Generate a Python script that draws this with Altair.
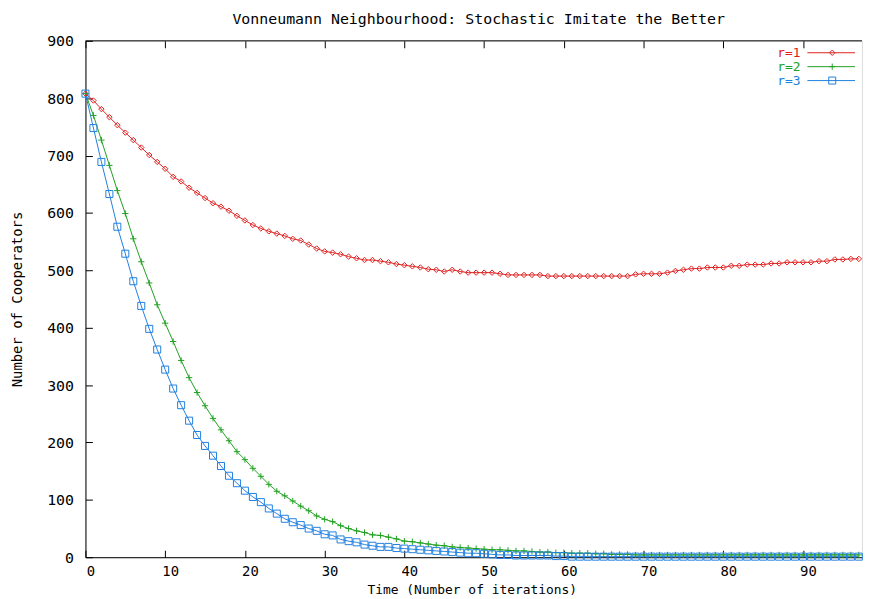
import altair as alt
import pandas as pd

# ---------------- data ----------------
iterations = list(range(0, 98))

r1 = [808, 796, 781, 767, 753, 740, 727, 714, 701, 689,
      677, 663, 655, 644, 635, 626, 617, 611, 604, 595,
      587, 579, 573, 568, 564, 560, 555, 552, 545, 538,
      533, 531, 528, 524, 521, 518, 518, 516, 514, 511,
      509, 507, 505, 502, 501, 498, 501, 498, 496, 496,
      496, 496, 494, 492, 492, 492, 492, 492, 490, 490,
      490, 490, 490, 490, 490, 490, 490, 490, 490, 493,
      494, 494, 494, 496, 499, 501, 503, 503, 505, 505,
      505, 508, 508, 510, 510, 510, 512, 512, 514, 514,
      514, 514, 516, 516, 519, 519, 520, 520]

r2 = [808, 770, 727, 683, 639, 599, 555, 515, 478, 440,
      408, 376, 343, 313, 287, 264, 242, 222, 203, 184,
      170, 155, 141, 127, 115, 107, 98, 89, 81, 72,
      66, 62, 55, 50, 46, 43, 39, 38, 35, 32,
      28, 27, 25, 23, 21, 20, 18, 17, 16, 15,
      14, 13, 13, 12, 11, 11, 10, 9, 9, 8,
      8, 7, 7, 7, 6, 6, 5, 5, 5, 4,
      4, 4, 4, 4, 4, 4, 4, 4, 4, 4,
      4, 4, 4, 4, 4, 4, 4, 4, 4, 4,
      4, 4, 4, 4, 4, 4, 4, 4]

r3 = [808, 748, 689, 633, 576, 529, 481, 438, 398, 362,
      327, 294, 265, 238, 213, 194, 177, 159, 142, 129,
      116, 105, 96, 85, 76, 67, 61, 56, 50, 46,
      40, 38, 31, 28, 26, 22, 20, 18, 18, 16,
      15, 14, 13, 12, 11, 10, 9, 8, 7, 7,
      6, 5, 4, 4, 3, 3, 3, 3, 3, 2,
      2, 1, 1, 1, 1, 1, 1, 1, 1, 1,
      1, 1, 1, 1, 1, 1, 1, 1, 1, 1,
      1, 1, 1, 1, 1, 1, 1, 1, 1, 1,
      1, 1, 1, 1, 1, 1, 1, 1]

series_names = ["r=1", "r=2", "r=3"]
series_colors = ["#e02020", "#20a020", "#2080e0"]
x_ticks = [0, 10, 20, 30, 40, 50, 60, 70, 80, 90]
y_ticks = [0, 100, 200, 300, 400, 500, 600, 700, 800, 900]
chart_title = "Vonneumann Neighbourhood: Stochastic Imitate the Better"
x_title = "Time (Number of iterations)"
y_title = "Number of Cooperators"

# ---------------- tables ----------------
df = pd.DataFrame({
    "t": iterations * 3,
    "count": r1 + r2 + r3,
    "series": [series_names[0]] * len(r1) + [series_names[1]] * len(r2) + [series_names[2]] * len(r3),
})
legend_df = pd.DataFrame({"series": series_names})
top_df = pd.DataFrame({"top": [y_ticks[-1]]})

# ---------------- style ----------------
W, H = 782, 520
FONT = "DejaVu Sans Mono"
PLUS = "M-1,0H1M0,-1V1"

color = alt.Color("series:N", scale=alt.Scale(domain=series_names, range=series_colors), legend=None)
shape = alt.Shape("series:N", scale=alt.Scale(domain=series_names, range=["diamond", PLUS, "square"]), legend=None)
size = alt.Size("series:N", scale=alt.Scale(domain=series_names, range=[30, 50, 40]), legend=None)

x_enc = alt.X(
    "t:Q",
    scale=alt.Scale(domain=[0, 97.4], nice=False, zero=False),
    axis=alt.Axis(
        values=x_ticks, title=x_title, ticks=False, labelPadding=7, labelOffset=5,
        labelFlush=False, labelFont=FONT, labelFontSize=14, labelColor="black",
        titleFont=FONT, titleFontSize=13, titleFontWeight="normal", titleColor="black",
        titleX=389, titleY=33, titleBaseline="middle",
        domainColor="black", domainWidth=1,
        grid=True, gridColor="black", gridOpacity=1, gridWidth=1,
        gridDash=[7, H - 14, 7, 2000],
    ),
)
y_enc = alt.Y(
    "count:Q",
    scale=alt.Scale(domain=[0, 900], nice=False),
    axis=alt.Axis(
        values=y_ticks, title=y_title, ticks=False, labelPadding=12,
        labelFont=FONT, labelFontSize=15, labelColor="black",
        titleFont=FONT, titleFontSize=14, titleFontWeight="normal", titleColor="black",
        titleX=-68, titleY=H / 2, titleBaseline="middle", titleAngle=270,
        domainColor="black", domainWidth=1,
        grid=True, gridColor="black", gridOpacity=1, gridWidth=1,
        gridDash=[7, 3000],
    ),
)

lines = alt.Chart(df).mark_line(strokeWidth=1).encode(x=x_enc, y=y_enc, color=color)
points = alt.Chart(df).mark_point(filled=False, strokeWidth=1, opacity=1).encode(
    x="t:Q", y="count:Q", color=color, shape=shape, size=size
)
top_border = alt.Chart(top_df).mark_rule(color="black", strokeWidth=1).encode(y="top:Q")

main = alt.layer(lines, points, top_border)

ly = alt.Y("series:N", scale=alt.Scale(type="point", domain=series_names, range=[12, 40], padding=0), axis=None)
leg_text = alt.Chart(legend_df).mark_text(align="right", baseline="middle", font=FONT, fontSize=13).encode(
    x=alt.value(720), y=ly, color=color, text="series:N"
)
leg_rule = alt.Chart(legend_df).mark_rule(strokeWidth=1).encode(
    x=alt.value(727), x2=alt.value(775), y=ly, color=color
)
leg_pt = alt.Chart(legend_df).mark_point(filled=False, strokeWidth=1, opacity=1).encode(
    x=alt.value(752), y=ly, color=color, shape=shape, size=size
)
legend = alt.layer(leg_text, leg_rule, leg_pt)

chart = alt.layer(main, legend).resolve_scale(y="independent").properties(
    width=W,
    height=H,
    title=alt.TitleParams(text=chart_title, font=FONT, fontSize=15, fontWeight="normal",
                          color="black", anchor="middle", dx=5, offset=7),
    autosize=alt.AutoSizeParams(type="none"),
    padding={"left": 78, "top": 31, "right": 2, "bottom": 40},
).configure_view(stroke=None).configure(background="white")

chart.save("out.html", embed_options={"renderer": "svg", "actions": False})
